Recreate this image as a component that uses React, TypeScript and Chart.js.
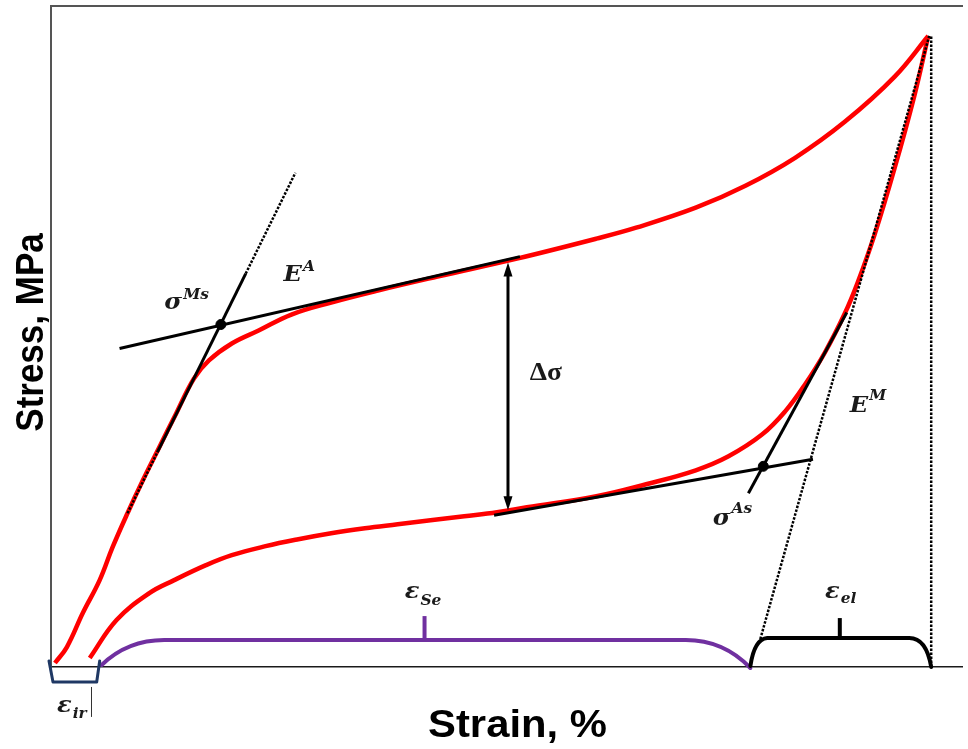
import React, { useEffect, useRef } from "react";
import { Chart, registerables } from "chart.js";

Chart.register(...registerables);

// ---- Data (strain in %, stress in MPa) ----
const LOADING_STRAIN = [0.04, 0.16, 0.32, 0.49, 0.62, 0.77, 0.92, 1.09, 1.26, 1.44, 1.59, 1.82, 2.09, 2.42, 2.82, 3.29, 3.89, 4.69, 5.49, 5.89, 6.49, 6.99, 7.49, 7.99, 8.49, 8.83];
const LOADING_STRESS = [4, 20, 54, 87, 120, 154, 186, 220, 254, 289, 307, 324, 337, 353, 365, 377, 391, 409, 429, 440, 460, 482, 510, 546, 591, 632];

const UNLOADING_STRAIN = [0.39, 0.66, 0.99, 1.24, 1.56, 1.82, 2.16, 2.49, 2.82, 3.16, 3.49, 3.82, 4.16, 4.49, 4.79, 5.49, 5.99, 6.49, 6.82, 7.16, 7.39, 7.59, 7.79, 7.99, 8.12, 8.29, 8.49, 8.69, 8.83];
const UNLOADING_STRESS = [9, 47, 74, 87, 102, 112, 121, 128, 134, 139, 143, 147, 151, 155, 160, 171, 183, 197, 211, 233, 256, 283, 315, 354, 385, 433, 499, 572, 632];

// tangent / construction lines
const UPPER_TANGENT_STRAIN = [0.69, 4.72];
const UPPER_TANGENT_STRESS = [319, 411];
const LOWER_TANGENT_STRAIN = [4.46, 7.67];
const LOWER_TANGENT_STRESS = [152, 208];
const EA_SOLID_STRAIN = [1.07, 1.96];
const EA_SOLID_STRESS = [215, 394];
const EA_DOT_LOW_STRAIN = [0.77, 1.07];
const EA_DOT_LOW_STRESS = [154, 215];
const EA_DOT_HIGH_STRAIN = [1.96, 2.46];
const EA_DOT_HIGH_STRESS = [394, 495];
const EM_SOLID_STRAIN = [7.02, 8.01];
const EM_SOLID_STRESS = [174, 355];
const EM_DOT_STRAIN = [7.14, 8.84];
const EM_DOT_STRESS = [28, 632];
const PEAK_DROP_STRAIN = [8.86, 8.86];
const PEAK_DROP_STRESS = [0, 632];
const TRANSFORM_STRAIN = [1.71, 7.17]; // sigma^Ms, sigma^As
const TRANSFORM_STRESS = [343, 201];

// delta sigma arrow
const DELTA_STRAIN = 4.6;
const DELTA_STRESS = [405, 157];

// strain brackets
const SE_BRACKET_STRAIN = [0.51, 0.77, 1.14, 6.39, 6.77, 7.04];
const SE_BRACKET_STRESS = [2, 27, 27, 27, 27, -1];
const SE_TICK = [3.76, 27, 51];
const EL_BRACKET_STRAIN = [7.04, 7.08, 7.21, 8.64, 8.81, 8.86];
const EL_BRACKET_STRESS = [1, 28, 29, 29, 29, 0];
const EL_TICK = [7.94, 29, 49];
const IR_BRACKET_STRAIN = [-0.02, 0.02, 0.46, 0.49];
const IR_BRACKET_STRESS = [6, -15, -15, 6];

const X_MAX = 9.17;
const Y_MAX = 662;

const pts = (xs: number[], ys: number[]) => xs.map((x, i) => ({ x, y: ys[i] }));

const MAIN_FONT = 'bold italic 22px "DejaVu Serif", "Liberation Serif", serif';
const SCRIPT_FONT = 'bold italic 14px "DejaVu Serif", "Liberation Serif", serif';

// labels: [strain, stress, main, script, script dy]
const LABELS: [number, number, string, string, number][] = [
  [1.14, 359, "σ", "Ms", -10],
  [2.34, 387, "E", "A", -10],
  [8.04, 255, "E", "M", -12],
  [6.66, 142, "σ", "As", -12],
  [3.56, 69, "ε", "Se", 7],
  [7.79, 69, "ε", "el", 5],
  [0.06, -45, "ε", "ir", 6],
];

const annotationPlugin = {
  id: "annotations",
  afterDatasetsDraw(chart: any) {
    const ctx: CanvasRenderingContext2D = chart.ctx;
    const xs = chart.scales.x;
    const ys = chart.scales.y;
    const px = (v: number) => xs.getPixelForValue(v);
    const py = (v: number) => ys.getPixelForValue(v);

    ctx.save();
    // delta sigma arrow
    const ax = px(DELTA_STRAIN);
    const yTop = py(DELTA_STRESS[0]);
    const yBot = py(DELTA_STRESS[1]);
    ctx.strokeStyle = "#000";
    ctx.fillStyle = "#000";
    ctx.lineWidth = 3;
    ctx.beginPath();
    ctx.moveTo(ax, yTop + 10);
    ctx.lineTo(ax, yBot - 10);
    ctx.stroke();
    const head = (tipY: number, dir: number) => {
      ctx.beginPath();
      ctx.moveTo(ax, tipY);
      ctx.lineTo(ax - 4.5, tipY + dir * 14);
      ctx.lineTo(ax + 4.5, tipY + dir * 14);
      ctx.closePath();
      ctx.fill();
    };
    head(yTop, 1);
    head(yBot, -1);

    // brackets
    const bracket = (sx: number[], sy: number[], color: string, width: number) => {
      ctx.strokeStyle = color;
      ctx.lineWidth = width;
      ctx.lineJoin = "round";
      ctx.lineCap = "round";
      ctx.beginPath();
      ctx.moveTo(px(sx[0]), py(sy[0]));
      ctx.quadraticCurveTo(px(sx[1]), py(sy[1]), px(sx[2]), py(sy[2]));
      ctx.lineTo(px(sx[3]), py(sy[3]));
      ctx.quadraticCurveTo(px(sx[4]), py(sy[4]), px(sx[5]), py(sy[5]));
      ctx.stroke();
    };
    const tick = (t: number[], color: string, width: number) => {
      ctx.strokeStyle = color;
      ctx.lineWidth = width;
      ctx.lineCap = "butt";
      ctx.beginPath();
      ctx.moveTo(px(t[0]), py(t[1]));
      ctx.lineTo(px(t[0]), py(t[2]));
      ctx.stroke();
    };
    bracket(SE_BRACKET_STRAIN, SE_BRACKET_STRESS, "#7030a0", 4);
    tick(SE_TICK, "#7030a0", 4);
    bracket(EL_BRACKET_STRAIN, EL_BRACKET_STRESS, "#000", 4);
    tick(EL_TICK, "#000", 4);

    ctx.strokeStyle = "#1f3864";
    ctx.lineWidth = 3;
    ctx.lineJoin = "round";
    ctx.lineCap = "round";
    ctx.beginPath();
    IR_BRACKET_STRAIN.forEach((s, i) => {
      const X = px(s), Y = py(IR_BRACKET_STRESS[i]);
      if (i === 0) ctx.moveTo(X, Y); else ctx.lineTo(X, Y);
    });
    ctx.stroke();

    // thin cursor-like mark next to eps_ir
    ctx.strokeStyle = "#333";
    ctx.lineWidth = 1;
    ctx.lineCap = "butt";
    ctx.beginPath();
    ctx.moveTo(Math.round(px(0.40)) + 0.5, py(-20));
    ctx.lineTo(Math.round(px(0.40)) + 0.5, py(-50));
    ctx.stroke();

    // math labels
    ctx.fillStyle = "#1a1a1a";
    ctx.textAlign = "left";
    ctx.textBaseline = "alphabetic";
    for (const [s, st, main, script, dy] of LABELS) {
      ctx.save();
      ctx.translate(px(s), py(st));
      ctx.scale(1.1, 1);
      ctx.font = MAIN_FONT;
      ctx.fillText(main, 0, 0);
      const w = ctx.measureText(main).width;
      ctx.font = SCRIPT_FONT;
      ctx.fillText(script, w + 1, dy);
      ctx.restore();
    }
    // delta sigma text
    ctx.save();
    ctx.translate(px(4.82), py(287));
    ctx.scale(1.1, 1);
    ctx.font = 'bold 25px "Liberation Serif", "DejaVu Serif", serif';
    ctx.fillText("Δσ", 0, 0);
    ctx.restore();

    // axis titles
    ctx.fillStyle = "#000";
    ctx.textAlign = "center";
    ctx.save();
    ctx.translate((xs.left + xs.right) / 2 + 11, chart.height - 12);
    ctx.scale(1.1, 1);
    ctx.font = 'bold 38px "Liberation Sans", Arial, sans-serif';
    ctx.fillText("Strain, %", 0, 0);
    ctx.restore();

    ctx.save();
    ctx.translate(43, (ys.top + ys.bottom) / 2 - 4);
    ctx.scale(1.1, 1);
    ctx.rotate(-Math.PI / 2);
    ctx.font = 'bold 35px "Liberation Sans", Arial, sans-serif';
    ctx.fillText("Stress, MPa", 0, 0);
    ctx.restore();

    ctx.restore();
  },
};

export default function App() {
  const canvasRef = useRef<HTMLCanvasElement | null>(null);

  useEffect(() => {
    document.documentElement.style.overflow = "hidden";
    document.body.style.margin = "0";
    document.body.style.overflow = "hidden";
    const canvas = canvasRef.current;
    if (!canvas) return;
    const red = { borderColor: "#ff0000", borderWidth: 4.5, tension: 0.4, order: 10 };
    const solid = { borderColor: "#000", borderWidth: 3, order: 1 };
    const dotted = { borderColor: "#000", borderWidth: 2.5, borderDash: [2.5, 1.5], order: 1 };
    const common = { showLine: true, pointRadius: 0, pointHoverRadius: 0, clip: false as const };

    const chart = new Chart(canvas, {
      type: "scatter",
      data: {
        datasets: [
          { label: "Loading", data: pts(LOADING_STRAIN, LOADING_STRESS), ...common, ...red },
          { label: "Unloading", data: pts(UNLOADING_STRAIN, UNLOADING_STRESS), ...common, ...red },
          { label: "Upper plateau tangent", data: pts(UPPER_TANGENT_STRAIN, UPPER_TANGENT_STRESS), ...common, ...solid },
          { label: "Lower plateau tangent", data: pts(LOWER_TANGENT_STRAIN, LOWER_TANGENT_STRESS), ...common, ...solid },
          { label: "E^A", data: pts(EA_SOLID_STRAIN, EA_SOLID_STRESS), ...common, ...solid },
          { label: "E^A low", data: pts(EA_DOT_LOW_STRAIN, EA_DOT_LOW_STRESS), ...common, ...dotted },
          { label: "E^A high", data: pts(EA_DOT_HIGH_STRAIN, EA_DOT_HIGH_STRESS), ...common, ...dotted },
          { label: "Unloading tangent", data: pts(EM_SOLID_STRAIN, EM_SOLID_STRESS), ...common, ...solid },
          { label: "E^M", data: pts(EM_DOT_STRAIN, EM_DOT_STRESS), ...common, ...dotted },
          { label: "Peak strain", data: pts(PEAK_DROP_STRAIN, PEAK_DROP_STRESS), ...common, ...dotted },
          {
            label: "Transformation stresses",
            data: pts(TRANSFORM_STRAIN, TRANSFORM_STRESS),
            showLine: false,
            pointRadius: 5,
            pointBackgroundColor: "#000",
            pointBorderColor: "#000",
            clip: false as const,
            order: 0,
          },
        ],
      },
      options: {
        animation: false,
        responsive: false,
        devicePixelRatio: 1,
        layout: { padding: 0 },
        plugins: { legend: { display: false }, tooltip: { enabled: false } },
        events: [],
        scales: {
          x: {
            type: "linear",
            position: "bottom",
            min: 0,
            max: X_MAX,
            ticks: { display: false },
            grid: { display: false, drawTicks: false },
            border: { display: true, color: "#1a1a1a", width: 1.5 },
            afterFit: (s: any) => { s.height = 82; },
          },
          xTop: {
            type: "linear",
            position: "top",
            min: 0,
            max: X_MAX,
            ticks: { display: false },
            grid: { display: false, drawTicks: false },
            border: { display: true, color: "#555", width: 2 },
            afterFit: (s: any) => { s.height = 5; },
          },
          y: {
            type: "linear",
            min: 0,
            max: Y_MAX,
            ticks: { display: false },
            grid: { display: false, drawTicks: false },
            border: { display: true, color: "#555", width: 2 },
            afterFit: (s: any) => { s.width = 51; },
          },
        },
      },
      plugins: [annotationPlugin],
    });
    return () => chart.destroy();
  }, []);

  return (
    <div style={{ width: 968, height: 749, background: "#fff" }}>
      <canvas ref={canvasRef} width={968} height={749} style={{ display: "block" }} />
    </div>
  );
}
